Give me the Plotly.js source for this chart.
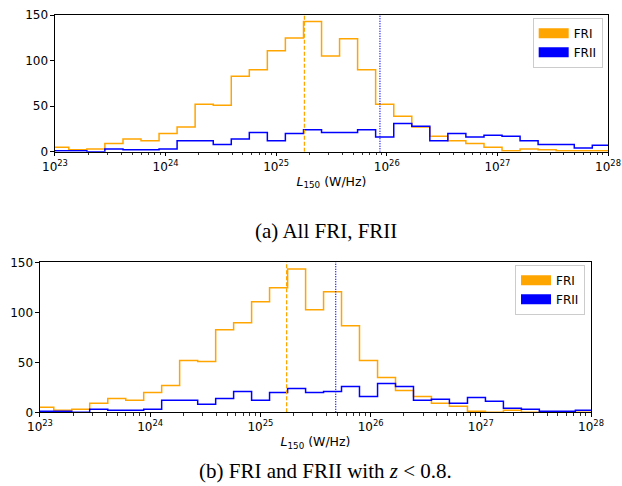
<!DOCTYPE html>
<html>
<head>
<meta charset="utf-8">
<script src="https://cdn.plot.ly/plotly-3.0.1.min.js"></script>
<style>
  html, body { margin: 0; padding: 0; background: #ffffff; }
  #chart { width: 622px; height: 486px; }
</style>
</head>
<body>
<div id="chart"></div>
<script>
// ---- data ----
// histogram bin edges, as log10(L150 / W/Hz)
const binEdgesLog = [22.962, 23.125, 23.288, 23.451, 23.615, 23.778, 23.941, 24.104,
  24.267, 24.431, 24.594, 24.757, 24.920, 25.083, 25.247, 25.410, 25.573, 25.736,
  25.899, 26.063, 26.226, 26.389, 26.552, 26.715, 26.879, 27.042, 27.205, 27.368,
  27.531, 27.695, 27.858, 28.021];

// (a) All FRI, FRII
const countsFRI_a  = [5, 2, 3, 9, 14, 12, 20, 27, 52, 51, 83, 90, 111, 125, 143, 105,
  124, 90, 52, 39, 27, 17, 12, 9, 5, 1, 3, 2, 1, 1, 1];
const countsFRII_a = [1, 1, 0, 3, 2, 2, 3, 12, 12, 8, 14, 21, 12, 20, 24, 21,
  21, 24, 16, 31, 28, 12, 20, 16, 18, 17, 12, 8, 8, 4, 7];
const medianFRI_a  = 1.80e25;
const medianFRII_a = 8.67e25;

// (b) FRI and FRII with z < 0.8
const countsFRI_b  = [5, 2, 3, 9, 14, 12, 20, 27, 52, 51, 83, 90, 111, 125, 144, 103,
  121, 87, 52, 35, 22, 16, 9, 6, 1, 0, 2, 0, 0, 0, 0];
const countsFRII_b = [1, 1, 0, 3, 2, 2, 3, 12, 12, 8, 14, 21, 12, 20, 24, 20,
  21, 26, 16, 29, 26, 12, 13, 9, 15, 11, 4, 3, 1, 1, 2];
const medianFRI_b  = 1.73e25;
const medianFRII_b = 4.82e25;

const seriesNames = ['FRI', 'FRII'];
const xTickVals = [1e23, 1e24, 1e25, 1e26, 1e27, 1e28];
const xTickText = ['10<sup>23</sup>', '10<sup>24</sup>', '10<sup>25</sup>',
  '10<sup>26</sup>', '10<sup>27</sup>', '10<sup>28</sup>'];
const yTickVals = [0, 50, 100, 150];
const xTitle = '<i>L</i><sub>150</sub> (W/Hz)';
const captionA = '(a) All FRI, FRII';
const captionB = '(b) FRI and FRII with <i>z</i> &lt; 0.8.';

// ---- build ----
const ORANGE = '#FFA500';
const BLUE = '#0000FF';
const edges = binEdgesLog.map(e => Math.pow(10, e));
function stepY(c) { return c.concat([c[c.length - 1]]); }

function hist(counts, color, xa, ya) {
  return { type: 'scatter', mode: 'lines', x: edges, y: stepY(counts),
    xaxis: xa, yaxis: ya, line: { color: color, width: 1.5, shape: 'hv' },
    showlegend: false, hoverinfo: 'skip' };
}
function vline(v, top, color, dash, xa, ya) {
  return { type: 'scatter', mode: 'lines', x: [v, v], y: [0, top],
    xaxis: xa, yaxis: ya, line: { color: color, width: 1.3, dash: dash },
    showlegend: false, hoverinfo: 'skip' };
}
function legendEntry(name, color, xa, ya, lg) {
  return { type: 'scatter', mode: 'lines', x: [null], y: [null], name: name,
    xaxis: xa, yaxis: ya, legend: lg, line: { color: color, width: 10 } };
}

const yTopA = 150.15, yTopB = 151.2;
const traces = [
  hist(countsFRI_a, ORANGE, 'x', 'y'),
  hist(countsFRII_a, BLUE, 'x', 'y'),
  vline(medianFRI_a, yTopA, ORANGE, '4px,2px', 'x', 'y'),
  vline(medianFRII_a, yTopA, BLUE, '1px,1.5px', 'x', 'y'),
  legendEntry(seriesNames[0], ORANGE, 'x', 'y', 'legend'),
  legendEntry(seriesNames[1], BLUE, 'x', 'y', 'legend'),
  hist(countsFRI_b, ORANGE, 'x2', 'y2'),
  hist(countsFRII_b, BLUE, 'x2', 'y2'),
  vline(medianFRI_b, yTopB, ORANGE, '4px,2px', 'x2', 'y2'),
  vline(medianFRII_b, yTopB, BLUE, '1px,1.5px', 'x2', 'y2'),
  legendEntry(seriesNames[0], ORANGE, 'x2', 'y2', 'legend2'),
  legendEntry(seriesNames[1], BLUE, 'x2', 'y2', 'legend2')
];

const FONT = 'DejaVu Sans, sans-serif';
const tickFont = { family: FONT, size: 12, color: '#000' };
function xAxis(domain, anchor) {
  return { domain: domain, anchor: anchor, type: 'log', range: [23, 28],
    tickmode: 'array', tickvals: xTickVals, ticktext: xTickText,
    ticks: 'outside', ticklen: 3.5, tickwidth: 1, tickcolor: '#000',
    minor: { dtick: 'D1', ticks: 'outside', ticklen: 2.5, tickwidth: 0.8, tickcolor: '#000', showgrid: false },
    showline: true, linecolor: '#000', linewidth: 1, mirror: true,
    showgrid: false, zeroline: false, tickfont: tickFont,
    title: { text: xTitle, font: { family: FONT, size: 12.5, color: '#000' }, standoff: 4 } };
}
function yAxis(domain, anchor, top) {
  return { domain: domain, anchor: anchor, range: [0, top],
    tickmode: 'array', tickvals: yTickVals,
    ticks: 'outside', ticklen: 3.5, tickwidth: 1, tickcolor: '#000',
    showline: true, linecolor: '#000', linewidth: 1, mirror: true,
    showgrid: false, zeroline: false, tickfont: tickFont };
}
function legendBox(x, y) {
  return { x: x, y: y, xanchor: 'left', yanchor: 'top',
    bgcolor: 'rgba(255,255,255,0.8)', bordercolor: '#cccccc', borderwidth: 1,
    font: { family: FONT, size: 12, color: '#000' }, itemwidth: 30, tracegroupgap: 0 };
}

const layout = {
  width: 622, height: 486,
  margin: { l: 0, r: 0, t: 0, b: 0 },
  paper_bgcolor: '#ffffff', plot_bgcolor: '#ffffff',
  showlegend: true,
  xaxis: xAxis([0.0884, 0.9775], 'y'),
  yaxis: yAxis([0.6879, 0.9691], 'x', yTopA),
  xaxis2: xAxis([0.0643, 0.9502], 'y2'),
  yaxis2: yAxis([0.1516, 0.4615], 'x2', yTopB),
  legend: legendBox(0.8564, 0.9635),
  legend2: legendBox(0.828, 0.4555),
  annotations: [
    { text: captionA, xref: 'paper', yref: 'paper', x: 0.524, y: 0.525,
      xanchor: 'center', yanchor: 'middle', showarrow: false,
      font: { family: 'Liberation Serif, Times New Roman, serif', size: 21, color: '#000' } },
    { text: captionB, xref: 'paper', yref: 'paper', x: 0.524, y: 0.002,
      xanchor: 'center', yanchor: 'bottom', showarrow: false,
      font: { family: 'Liberation Serif, Times New Roman, serif', size: 21, color: '#000' } }
  ]
};

Plotly.newPlot('chart', traces, layout, { staticPlot: true, displayModeBar: false });
</script>
</body>
</html>
